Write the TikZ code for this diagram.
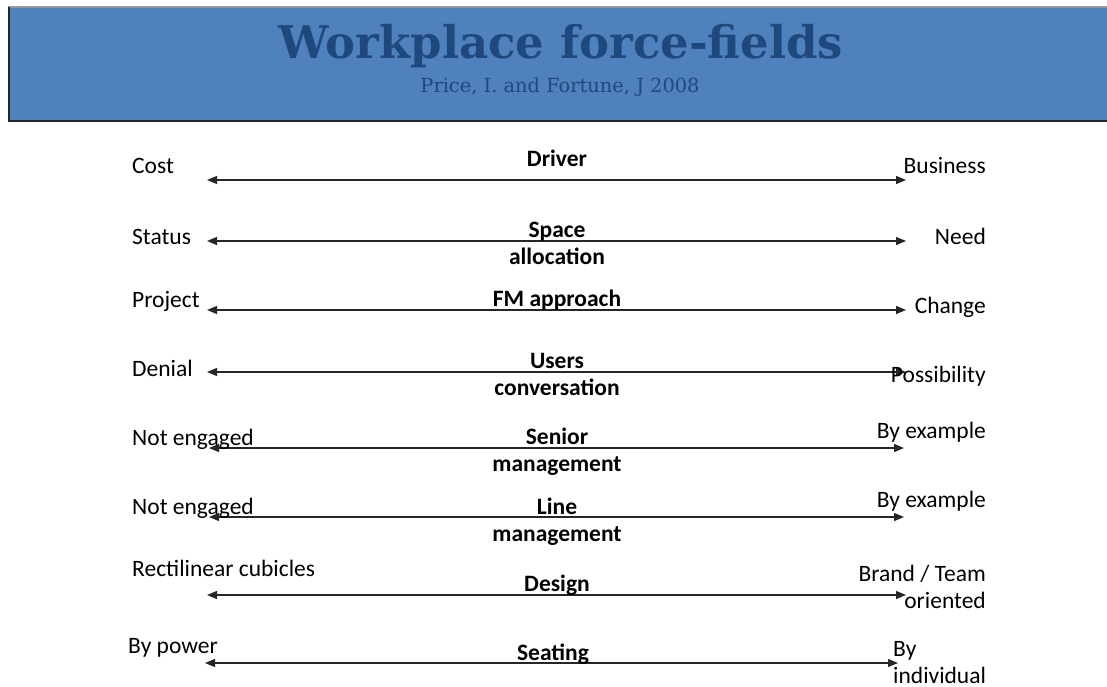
\documentclass[tikz,border=0pt]{standalone}
\usepackage{fontspec}
\setmainfont{Carlito}
\newfontfamily\headfont{DejaVu Serif}
\usetikzlibrary{arrows.meta}

\definecolor{barblue}{HTML}{4F81BD}
\definecolor{inkblue}{HTML}{1F497D}

\tikzset{
  pole/.style={font=\fontsize{23.5}{26.5}\selectfont, inner sep=0pt, anchor=base},
  field/.style={font=\bfseries\fontsize{23.5}{27}\selectfont, align=center, inner sep=0pt, anchor=base},
  force/.style={{Triangle[length=10pt,width=8pt]}-{Triangle[length=10pt,width=8pt]}, line width=1.2pt, draw=black!85}
}

\begin{document}
\begin{tikzpicture}[x=1pt,y=-1pt]
  \useasboundingbox (0,0) rectangle (1107,687);

  % title bar
  \fill[barblue] (8,7) rectangle (1110,121);
  \draw[black!40, line width=1.5pt] (8,7) -- (1110,7);
  \draw[black!85, line width=2pt] (1110,121) -- (9,121) -- (9,7);
  \node[inner sep=0pt, anchor=base, text=inkblue, font=\headfont\bfseries\fontsize{45}{45}\selectfont] (title) at (561,59) {Workplace force-fields};
  \node[inner sep=0pt, anchor=base, text=inkblue, font=\headfont\fontsize{19.4}{19.4}\selectfont] (source) at (560,93) {Price, I. and Fortune, J 2008};

  % the eight force-fields
  \coordinate (a1) at (207,180); \coordinate (b1) at (906,180);
  \coordinate (a2) at (207,241); \coordinate (b2) at (906,241);
  \coordinate (a3) at (207,310); \coordinate (b3) at (906,310);
  \coordinate (a4) at (207,372); \coordinate (b4) at (906,372);
  \coordinate (a5) at (209,448); \coordinate (b5) at (904,448);
  \coordinate (a6) at (209,517); \coordinate (b6) at (904,517);
  \coordinate (a7) at (207,595); \coordinate (b7) at (906,595);
  \coordinate (a8) at (205,663); \coordinate (b8) at (898,663);

  \draw[force] (a1) -- (b1);
  \draw[force] (a2) -- (b2);
  \draw[force] (a3) -- (b3);
  \draw[force] (a4) -- (b4);
  \draw[force] (a5) -- (b5);
  \draw[force] (a6) -- (b6);
  \draw[force] (a7) -- (b7);
  \draw[force] (a8) -- (b8);

  % multi-line labels sit on the baseline of their last line
  \node[field] (m1) at (557,167) {Driver};
  \node[field] (m2) at (557,264) {Space\\allocation};
  \node[field] (m3) at (557,306) {FM approach};
  \node[field] (m4) at (557,395) {Users\\conversation};
  \node[field] (m5) at (557,471) {Senior\\management};
  \node[field] (m6) at (557,541) {Line\\management};
  \node[field] (m7) at (557,591) {Design};
  \node[field] (m8) at (553,660) {Seating};

  \node[pole, anchor=base west] (l1) at (132,174) {Cost};
  \node[pole, anchor=base west] (l2) at (132,244) {Status};
  \node[pole, anchor=base west] (l3) at (132,307) {Project};
  \node[pole, anchor=base west] (l4) at (132,376) {Denial};
  \node[pole, anchor=base west] (l5) at (132,445) {Not engaged};
  \node[pole, anchor=base west] (l6) at (132,514) {Not engaged};
  \node[pole, anchor=base west] (l7) at (132,576) {Rectilinear cubicles};
  \node[pole, anchor=base west] (l8) at (128,653) {By power};

  \node[pole, anchor=base east] (r1) at (986,174) {Business};
  \node[pole, anchor=base east] (r2) at (986,244) {Need};
  \node[pole, anchor=base east] (r3) at (986,313) {Change};
  \node[pole, anchor=base east] (r4) at (986,382) {Possibility};
  \node[pole, anchor=base east] (r5) at (986,438) {By example};
  \node[pole, anchor=base east] (r6) at (986,507) {By example};
  \node[pole, anchor=base east, align=right] (r7) at (986,608) {Brand / Team\\oriented};
  \node[pole, anchor=base west, align=left] (r8) at (893,683) {By\\individual};
\end{tikzpicture}
\end{document}
